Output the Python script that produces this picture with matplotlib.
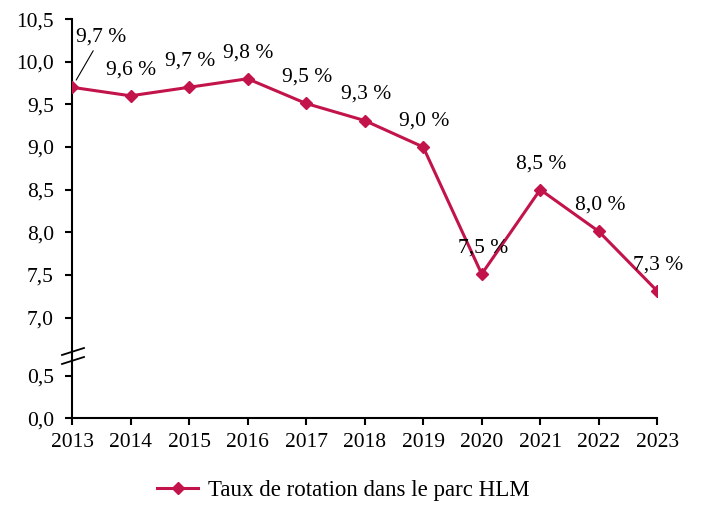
import numpy as np
import matplotlib.pyplot as plt
from matplotlib.lines import Line2D

years = [2013, 2014, 2015, 2016, 2017, 2018, 2019, 2020, 2021, 2022, 2023]
taux = [9.7, 9.6, 9.7, 9.8, 9.51, 9.31, 9.0, 7.51, 8.5, 8.01, 7.31]
labels = ["9,7 %", "9,6 %", "9,7 %", "9,8 %", "9,5 %", "9,3 %", "9,0 %",
          "7,5 %", "8,5 %", "8,0 %", "7,3 %"]
yticks = [0.0, 0.5, 7.0, 7.5, 8.0, 8.5, 9.0, 9.5, 10.0, 10.5]
ytick_labels = ["0,0", "0,5", "7,0", "7,5", "8,0", "8,5", "9,0", "9,5", "10,0", "10,5"]

color = "#C2134A"
fs = 15.5
plt.rcParams['font.family'] = ['Liberation Serif', 'DejaVu Serif']

# broken y scale: 0-0.5 linear, gap, then 7-10.5
xp = np.array([-10.0, 0.0, 0.5, 7.0, 10.5, 30.0])
fp = np.array([-10.0, 0.0, 0.5, 1.18, 4.68, 24.18])


def fwd(v):
    return np.interp(v, xp, fp)


def inv(v):
    return np.interp(v, fp, xp)


fig = plt.figure(figsize=(7.06, 5.15), dpi=100)
ax = fig.add_axes([0.102, 0.188, 0.829, 0.775])
ax.set_yscale('function', functions=(fwd, inv))

ax.plot(years, taux, color=color, lw=2.2, marker='D', ms=6.5, zorder=3,
        label="Taux de rotation dans le parc HLM")

for i, (x, y, t) in enumerate(zip(years, taux, labels)):
    if i == 0:
        ax.annotate(t, xy=(x, y), xytext=(29, 50), textcoords='offset pixels',
                    ha='center', va='center', fontsize=fs,
                    arrowprops=dict(arrowstyle='-', color='black', lw=0.8,
                                    shrinkA=1, shrinkB=6))
    else:
        ax.annotate(t, xy=(x, y), xytext=(1, 26), textcoords='offset pixels',
                    ha='center', va='center', fontsize=fs)

ax.set_xlim(2013, 2023)
ax.set_ylim(0, 10.5)
ax.set_xticks(years)
ax.set_xticklabels([str(y) for y in years])
ax.set_yticks(yticks)
ax.set_yticklabels(ytick_labels)
ax.tick_params(axis='both', labelsize=fs, width=1.5, length=5, direction='out')
ax.tick_params(axis='y', pad=8)
ax.tick_params(axis='x', pad=6)
for s in ['top', 'right']:
    ax.spines[s].set_visible(False)
for s in ['left', 'bottom']:
    ax.spines[s].set_linewidth(1.5)

# break marks on the y axis
for dy in (0, 9):
    fig.add_artist(Line2D([62 / 706, 84 / 706],
                          [1 - (355 + dy) / 515, 1 - (348 + dy) / 515],
                          color='black', lw=1.3))

fig.legend(loc='center', bbox_to_anchor=(0.486, 0.047), frameon=False,
           fontsize=16.5, handlelength=1.8, handletextpad=0.4)

fig.savefig("out.png", dpi=100)
